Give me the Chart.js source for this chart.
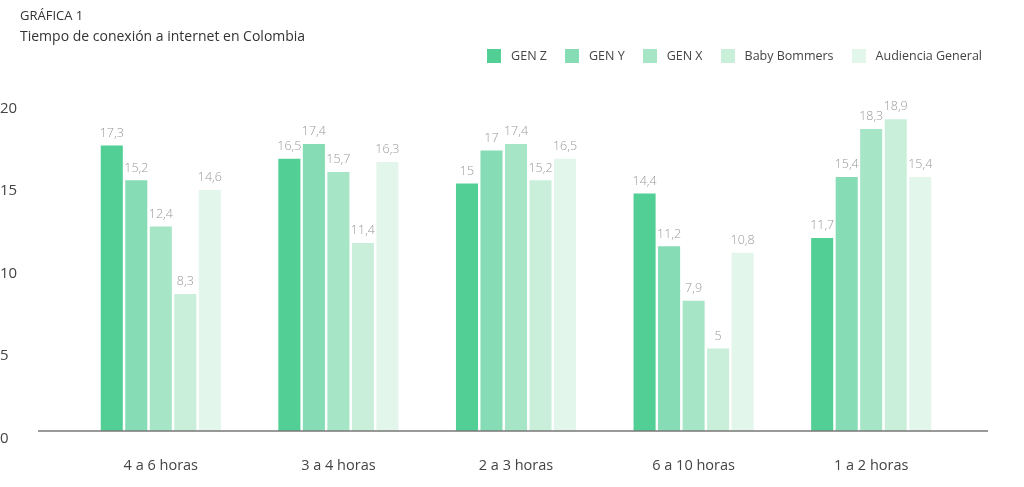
<!DOCTYPE html><html><head><meta charset="utf-8">
<script src="https://cdn.jsdelivr.net/npm/chart.js@4"></script>
<style>body{margin:0;background:#fff;font-family:Montserrat,"Open Sans",sans-serif}
#wrap{position:relative;width:1024px;height:487px}
.t{position:absolute;left:20px;color:#333;font-family:"Open Sans",sans-serif}
#leg{position:absolute;right:42px;top:47px;display:flex;gap:18px;font:12.5px "Open Sans",sans-serif;color:#444}
#leg span{display:flex;align-items:center}#leg i{display:inline-block;width:14px;height:14px;margin-right:10px}
</style></head><body><div id="wrap">
<canvas id="c" width="1024" height="487"></canvas>
<div class="t" style="top:6px;font-size:13px">GRÁFICA 1</div>
<div class="t" style="top:26px;font-size:14px">Tiempo de conexión a internet en Colombia</div>
<div id="leg"></div></div>
<script>
const categories=["4 a 6 horas","3 a 4 horas","2 a 3 horas","6 a 10 horas","1 a 2 horas"];
const seriesNames=["GEN Z","GEN Y","GEN X","Baby Bommers","Audiencia General"];
const genZ=[17.3,16.5,15,14.4,11.7];
const genY=[15.2,17.4,17,11.2,15.4];
const genX=[12.4,15.7,17.4,7.9,18.3];
const boomers=[8.3,11.4,15.2,5,18.9];
const general=[14.6,16.3,16.5,10.8,15.4];
const colors=["#52cf94","#86dcb4","#a6e5c6","#c9efdb","#e3f6ec"];
const values=[genZ,genY,genX,boomers,general];
document.getElementById('leg').innerHTML=seriesNames.map((n,i)=>`<span><i style="background:${colors[i]}"></i>${n}</span>`).join('');
const labelsPlugin={id:'lbl',afterDatasetsDraw(ch){const c=ch.ctx;c.save();c.font='300 12.5px "Open Sans",sans-serif';c.fillStyle='#999';c.textAlign='center';c.textBaseline='bottom';
ch.data.datasets.forEach((d,i)=>ch.getDatasetMeta(i).data.forEach((b,j)=>c.fillText(String(d.data[j]).replace('.',','),b.x,b.y-6)));
const y=ch.scales.y.getPixelForValue(0);c.strokeStyle='#777';c.lineWidth=1.3;c.beginPath();c.moveTo(38,y);c.lineTo(988,y);c.stroke();c.restore();}};
new Chart(document.getElementById('c'),{type:'bar',data:{labels:categories,datasets:values.map((v,i)=>({label:seriesNames[i],data:v,backgroundColor:colors[i],barPercentage:0.9,categoryPercentage:0.69}))},
options:{responsive:false,animation:false,layout:{padding:{top:101,right:64,left:0,bottom:0}},
plugins:{legend:{display:false},tooltip:{enabled:false}},
scales:{y:{min:0,max:20,ticks:{stepSize:5,color:'#444',font:{size:15,family:'"Open Sans",sans-serif'},align:'start',crossAlign:'far',padding:0},grid:{display:false},border:{display:false},afterFit:s=>{s.width=72}},
x:{ticks:{color:'#444',font:{size:14.5,family:'"Open Sans",sans-serif'},padding:18},grid:{display:false},border:{display:false},afterFit:s=>{s.height=56}}}},plugins:[labelsPlugin]});
</script></body></html>
